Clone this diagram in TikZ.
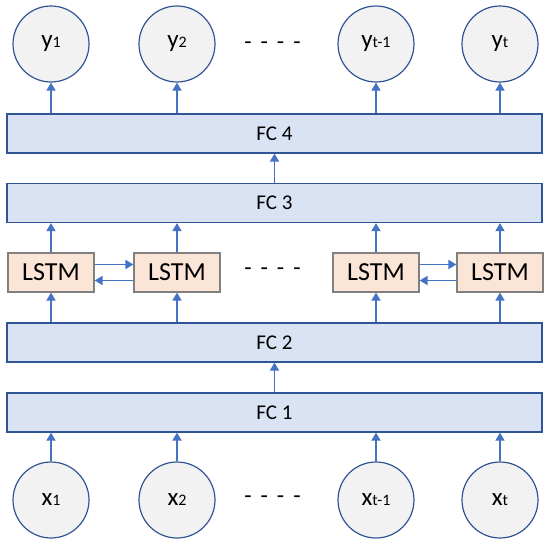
\documentclass[tikz,border=0pt]{standalone}
\usepackage{fontspec}
\setmainfont{Carlito}
\usetikzlibrary{arrows.meta}
\definecolor{pfeilblau}{HTML}{4472C4}
\definecolor{randblau}{HTML}{2F5597}
\definecolor{fcfill}{HTML}{DAE3F3}
\definecolor{lstmfill}{HTML}{FBE5D6}
\definecolor{kreisfill}{HTML}{F2F2F2}
\tikzset{
    fcbox/.style   = {draw=randblau, fill=fcfill, line width=1.2pt, inner sep=0pt,
                      minimum width=535pt, minimum height=39pt,
                      font=\fontsize{21}{21}\selectfont},
    lstmbox/.style = {draw=black!50, fill=lstmfill, line width=1.2pt, inner sep=0pt,
                      minimum width=86pt, minimum height=39pt,
                      font=\fontsize{26}{26}\selectfont},
    kreis/.style   = {circle, draw=randblau, fill=kreisfill, line width=1.2pt,
                      inner sep=0pt, minimum size=76pt,
                      font=\fontsize{25}{25}\selectfont},
    pfeil/.style   = {-{Triangle[length=8pt, width=9pt]}, draw=pfeilblau,
                      line width=1.7pt},
    punkte/.style  = {font=\fontsize{24}{24}\selectfont}
}
\newcommand{\idx}[1]{{\fontsize{16}{16}\selectfont #1}}
\newcommand{\punktreihe}{-\hspace{9pt}-\hspace{9pt}-\hspace{9pt}-}

\begin{document}
\begin{tikzpicture}[x=1pt, y=-1pt]
    \useasboundingbox (0,0) rectangle (550,546);

    % Schichten
    \node[fcbox] (fc4) at (274.5,133.5) {FC 4};
    \node[fcbox] (fc3) at (274.5,203)   {FC 3};
    \node[fcbox] (fc2) at (274.5,342.5) {FC 2};
    \node[fcbox] (fc1) at (274.5,412.5) {FC 1};

    % Ein- und Ausgaben, LSTM-Zellen
    \foreach \x/\n/\s in {51/1/1, 177/2/2, 376/3/{t-1}, 500/4/t} {
        \node[kreis]   (y\n) at (\x,44)    {y\idx{\s}};
        \node[kreis]   (x\n) at (\x,500)   {x\idx{\s}};
        \node[lstmbox] (l\n) at (\x,272.5) {LSTM};
    }

    % Auslassungen
    \node[punkte] (py) at (272.5,46)  {\punktreihe};
    \node[punkte] (pl) at (272.5,272) {\punktreihe};
    \node[punkte] (px) at (272.5,500) {\punktreihe};

    % Verbindungen nach oben
    \foreach \n in {1,2,3,4} {
        \draw[pfeil] (x\n) -- (x\n |- fc1.south);
        \draw[pfeil] (l\n |- fc2.north) -- (l\n);
        \draw[pfeil] (l\n) -- (l\n |- fc3.south);
        \draw[pfeil] (y\n |- fc4.north) -- (y\n);
    }
    \draw[pfeil] (fc1) -- (fc2);
    \draw[pfeil] (fc3) -- (fc4);

    % Rekurrenz zwischen den Zellen
    \foreach \a/\b in {1/2, 3/4} {
        \draw[pfeil] ([yshift=8pt]l\a.east) -- ([yshift=8pt]l\b.west);
        \draw[pfeil] ([yshift=-8pt]l\b.west) -- ([yshift=-8pt]l\a.east);
    }
\end{tikzpicture}
\end{document}
